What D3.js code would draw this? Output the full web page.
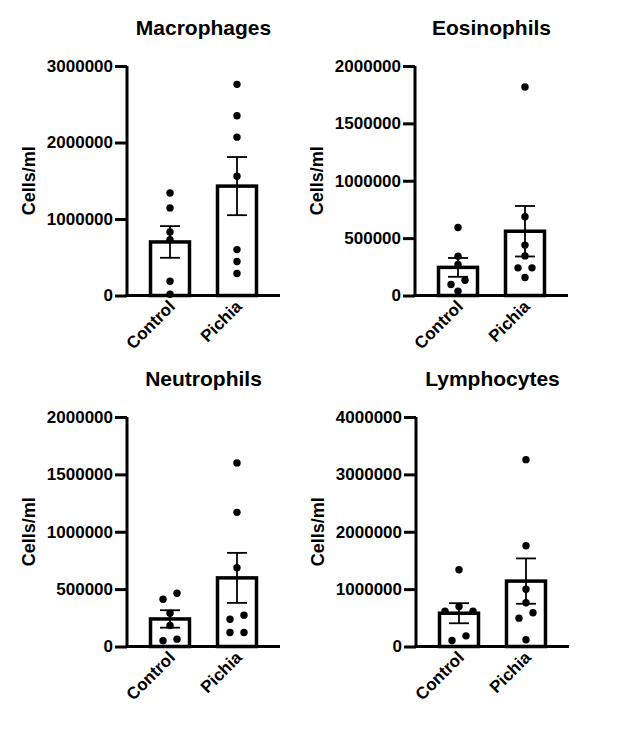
<!DOCTYPE html>
<html>
<head>
<meta charset="utf-8">
<script src="https://cdn.jsdelivr.net/npm/d3@7"></script>
<style>
  body { margin: 0; background: #fff; }
  text { font-family: Arial, "Liberation Sans", sans-serif; font-weight: bold; fill: #000; }
</style>
</head>
<body>
<div id="plot_area"></div>
<script>
// groups and panels
var categories = ["Control", "Pichia"];
var panelTitles = ["Macrophages", "Eosinophils", "Neutrophils", "Lymphocytes"];
var yMax = [3000000, 2000000, 2000000, 4000000];
var yTicks = [
  [0, 1000000, 2000000, 3000000],
  [0, 500000, 1000000, 1500000, 2000000],
  [0, 500000, 1000000, 1500000, 2000000],
  [0, 1000000, 2000000, 3000000, 4000000]
];

// individual animals (cells/ml)
var macrophagesControl = [1340000, 1145000, 830000, 730000, 187000, 17000];
var macrophagesPichia  = [2760000, 2350000, 2070000, 1560000, 600000, 445000, 288000];
var eosinophilsControl = [593000, 343000, 270000, 133000, 96000, 37000];
var eosinophilsPichia  = [1817000, 686000, 439000, 345000, 241000, 241000, 157000];
var neutrophilsControl = [464000, 412000, 290000, 183000, 64000, 50000];
var neutrophilsPichia  = [1600000, 1169000, 687000, 273000, 238000, 122000, 122000];
var lymphocytesControl = [1338000, 698000, 616000, 616000, 186000, 105000];
var lymphocytesPichia  = [3257000, 1756000, 999000, 762000, 588000, 494000, 117000];

// bar heights (mean) and error bars (SEM) as plotted
var means = [[700000, 1430000], [245000, 560000], [240000, 598000], [580000, 1140000]];
var sems  = [[207000, 380000], [82000, 220000], [76000, 218000], [175000, 395000]];

var points = [
  [macrophagesControl, macrophagesPichia],
  [eosinophilsControl, eosinophilsPichia],
  [neutrophilsControl, neutrophilsPichia],
  [lymphocytesControl, lymphocytesPichia]
];

// layout
var W = 637, H = 737;
var panelLeft = [127, 415, 127, 416];
var panelTop = [66, 66, 417, 417];
var plotW = 153, plotH = 229.5;

var svg = d3.select("#plot_area").append("svg")
  .attr("width", W).attr("height", H)
  .style("background", "#fff");

panelTitles.forEach(function(title, i) {
  var g = svg.append("g")
    .attr("transform", "translate(" + panelLeft[i] + "," + panelTop[i] + ")");

  var x = d3.scaleBand()
    .domain(categories)
    .range([0, plotW])
    .paddingInner(0.418)
    .paddingOuter(0.351);

  var y = d3.scaleLinear()
    .domain([0, yMax[i]])
    .range([plotH, 0]);

  // bars
  g.selectAll(".bar")
    .data(categories)
    .enter().append("rect")
      .attr("x", function(d) { return x(d); })
      .attr("width", x.bandwidth())
      .attr("y", function(d, j) { return y(means[i][j]); })
      .attr("height", function(d, j) { return plotH - y(means[i][j]); })
      .attr("fill", "#fff")
      .attr("stroke", "#000")
      .attr("stroke-width", 3.5);

  // error bars
  categories.forEach(function(c, j) {
    var cx = x(c) + x.bandwidth() / 2;
    var lo = y(means[i][j] - sems[i][j]), hi = y(means[i][j] + sems[i][j]);
    var eb = g.append("g").attr("stroke", "#000").attr("stroke-width", 1.8);
    eb.append("line").attr("x1", cx).attr("x2", cx).attr("y1", hi).attr("y2", lo);
    eb.append("line").attr("x1", cx - 10).attr("x2", cx + 10).attr("y1", hi).attr("y2", hi);
    eb.append("line").attr("x1", cx - 10).attr("x2", cx + 10).attr("y1", lo).attr("y2", lo);
  });

  // dots, spread sideways when they'd overlap (rows of close values)
  categories.forEach(function(c, j) {
    var cx = x(c) + x.bandwidth() / 2;
    var vals = points[i][j].slice().sort(function(a, b) { return b - a; });
    var rows = [];
    vals.forEach(function(v) {
      var last = rows[rows.length - 1];
      if (last && y(v) - y(last[0]) < 7) last.push(v);
      else rows.push([v]);
    });
    rows.forEach(function(row) {
      var k = row.length, mid = Math.floor(k / 2);
      var order = [mid];
      for (var s = 1; order.length < k; s++) {
        if (mid - s >= 0) order.push(mid - s);
        if (mid + s < k && order.length < k) order.push(mid + s);
      }
      row.forEach(function(v, n) {
        g.append("circle")
          .attr("cx", cx + (order[n] - (k - 1) / 2) * 14)
          .attr("cy", y(v))
          .attr("r", 3.7)
          .attr("fill", "#000");
      });
    });
  });

  // y axis
  var ya = g.append("g")
    .call(d3.axisLeft(y).tickValues(yTicks[i]).tickFormat(d3.format("d")).tickSize(12).tickPadding(2));
  ya.select(".domain").attr("stroke-width", 3).attr("d", "M0," + (plotH + 1.5) + "V0");
  ya.selectAll(".tick line").attr("stroke-width", 3);
  ya.selectAll(".tick text").style("font-size", "17px").style("font-family", "Arial, 'Liberation Sans', sans-serif").style("font-weight", "bold");

  // x axis line
  g.append("line")
    .attr("x1", -1.5).attr("x2", plotW)
    .attr("y1", plotH).attr("y2", plotH)
    .attr("stroke", "#000").attr("stroke-width", 3);

  // category labels
  g.selectAll(".cat")
    .data(categories)
    .enter().append("text")
      .attr("text-anchor", "end")
      .attr("transform", function(d) {
        return "translate(" + (x(d) + x.bandwidth() / 2 + 6) + "," + (plotH + 12) + ") rotate(-45)";
      })
      .style("font-size", "17px")
      .text(function(d) { return d; });

  // title
  g.append("text")
    .attr("text-anchor", "middle")
    .attr("x", plotW / 2)
    .attr("y", i < 2 ? 35 - panelTop[i] : 386 - panelTop[i])
    .style("font-size", "21px")
    .text(title);

  // y axis title
  g.append("text")
    .attr("text-anchor", "middle")
    .attr("transform", "translate(-92," + (plotH / 2) + ") rotate(-90)")
    .style("font-size", "18px")
    .text("Cells/ml");
});
</script>
</body>
</html>
